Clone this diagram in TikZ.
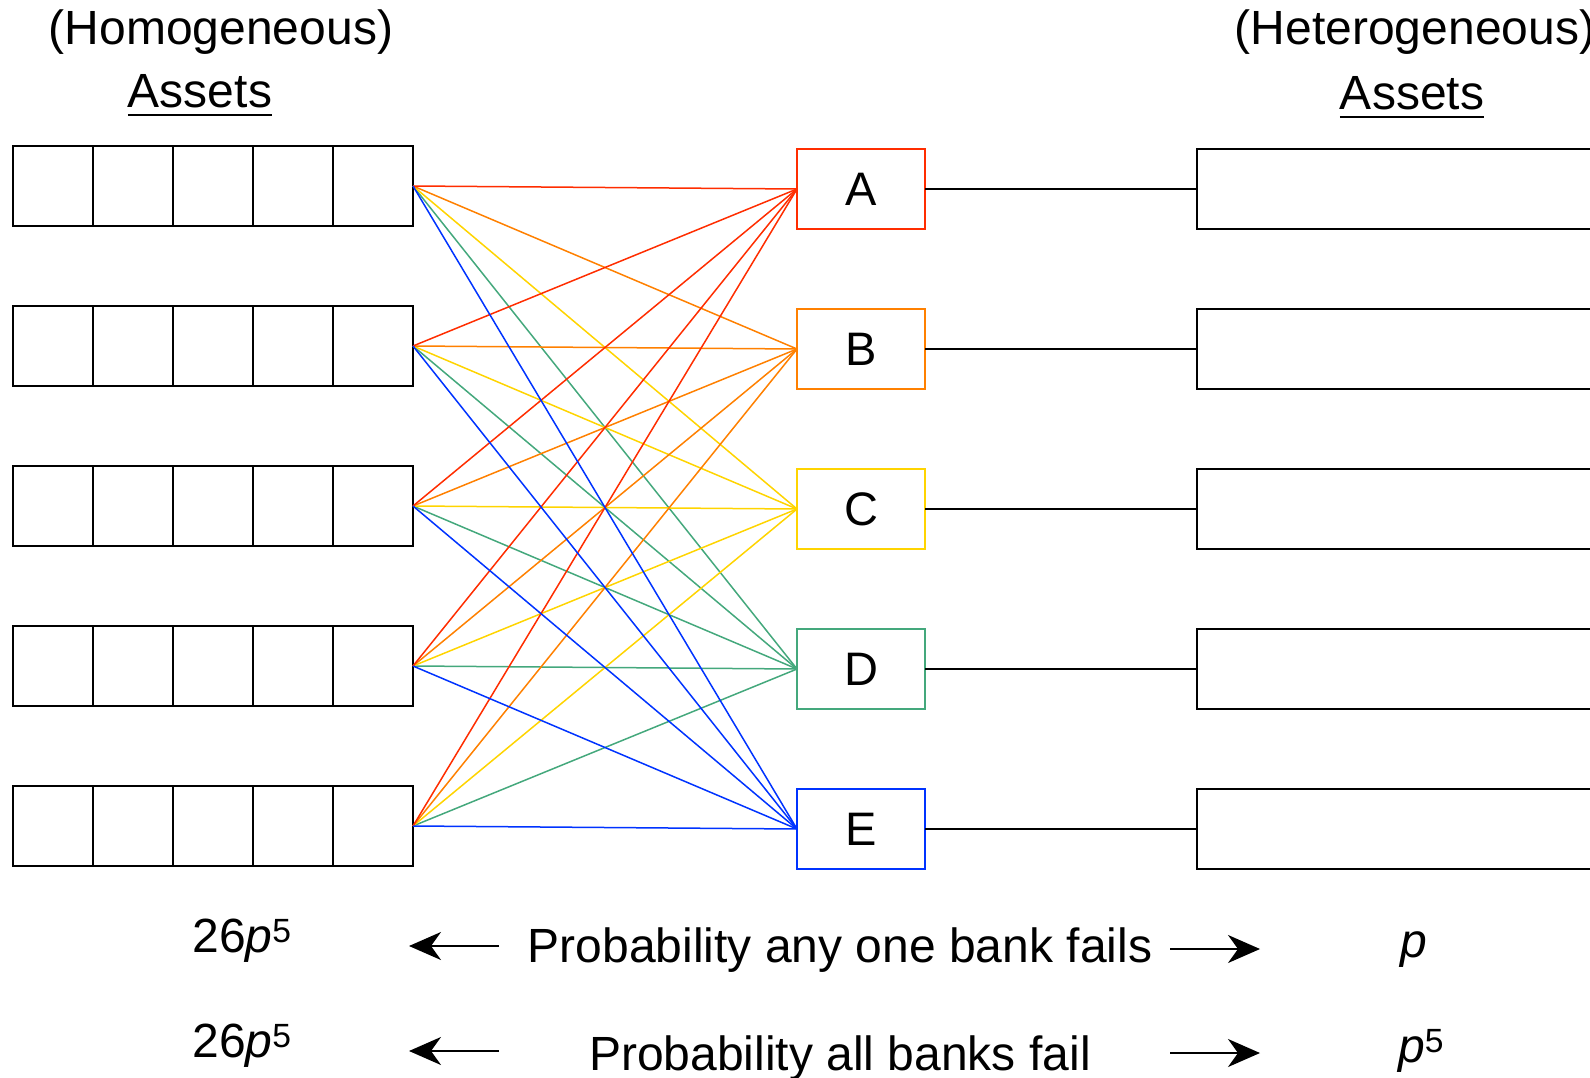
\documentclass[tikz,border=0pt]{standalone}
\usepackage{fontspec}
\setmainfont{Liberation Sans}
\usetikzlibrary{arrows.meta}
\definecolor{cA}{RGB}{255,45,0}
\definecolor{cB}{RGB}{255,128,0}
\definecolor{cC}{RGB}{255,212,0}
\definecolor{cD}{RGB}{68,168,124}
\definecolor{cE}{RGB}{0,51,255}
\tikzset{
  cell/.style={draw=black, line width=2pt, minimum width=80pt, minimum height=80pt, inner sep=0pt, outer sep=0pt},
  bank/.style={draw, line width=1.8pt, fill=white, minimum width=128pt, minimum height=80pt, inner sep=0pt, outer sep=0pt, font=\fontsize{47pt}{54pt}\selectfont},
  het/.style={draw=black, line width=2pt, minimum width=440pt, minimum height=80pt, inner sep=0pt, outer sep=0pt, anchor=west},
  txt/.style={inner sep=0pt, outer sep=0pt, anchor=base, font=\fontsize{48pt}{56pt}\selectfont},
  conn/.style={line width=1.5pt},
  link/.style={line width=1.6pt, draw=black},
  uline/.style={line width=2pt, draw=black},
  arr/.style={line width=2pt, -{Stealth[length=32pt, width=28pt, inset=10pt]}}
}
\begin{document}
\begin{tikzpicture}[x=1pt,y=-1pt]
\useasboundingbox (0,0) rectangle (1590,1078);
\clip (0,0) rectangle (1590,1078);
% headings
\node[txt] (homog) at (221,45) {(Homogeneous)};
\node[txt] (assetsL) at (200,108) {Assets};
\node[txt] (heterog) at (1415,45) {(Heterogeneous)};
\node[txt] (assetsR) at (1412,110) {Assets};
\draw[uline] ([yshift=-7pt]assetsL.base west) -- ([yshift=-7pt]assetsL.base east);
\draw[uline] ([yshift=-7pt]assetsR.base west) -- ([yshift=-7pt]assetsR.base east);
% homogeneous rows
\foreach \i in {1,...,5} {
  \foreach \j in {1,...,5} {
    \node[cell] (row\i-\j) at ({13+80*\j-40},{186+160*(\i-1)}) {};
  }
}
% banks
\node[bank, draw=cA] (A) at (861,189) {A};
\node[bank, draw=cB] (B) at (861,349) {B};
\node[bank, draw=cC] (C) at (861,509) {C};
\node[bank, draw=cD] (D) at (861,669) {D};
\node[bank, draw=cE] (E) at (861,829) {E};
% connectors
\foreach \b/\c in {D/cD,C/cC,B/cB,A/cA,E/cE} {
  \foreach \i in {1,...,5} {
    \draw[conn, draw=\c] (row\i-5.east) -- (\b.west);
  }
}
% heterogeneous boxes
\foreach \b in {A,B,C,D,E} {
  \node[het] (h\b) at (1197,0 |- \b) {};
  \draw[link] (\b.east) -- (h\b.west);
}
% bottom rows
\node[txt] (probL1) at (242,952) {26\textit{p}\textsuperscript{5}};
\node[txt] (probM1) at (840,962) {Probability any one bank fails};
\node[txt] (probR1) at (1414,957) {\textit{p}};
\node[txt] (probL2) at (242,1057) {26\textit{p}\textsuperscript{5}};
\node[txt] (probM2) at (840,1070) {Probability all banks fail};
\node[txt] (probR2) at (1421,1062) {\textit{p}\textsuperscript{5}};
\coordinate (l1s) at (499,946);
\coordinate (l1e) at (409,946);
\coordinate (r1s) at (1170,949);
\coordinate (r1e) at (1260,949);
\coordinate (l2s) at (499,1051);
\coordinate (l2e) at (409,1051);
\coordinate (r2s) at (1170,1053);
\coordinate (r2e) at (1260,1053);
\draw[arr] (l1s) -- (l1e);
\draw[arr] (r1s) -- (r1e);
\draw[arr] (l2s) -- (l2e);
\draw[arr] (r2s) -- (r2e);
\end{tikzpicture}
\end{document}
